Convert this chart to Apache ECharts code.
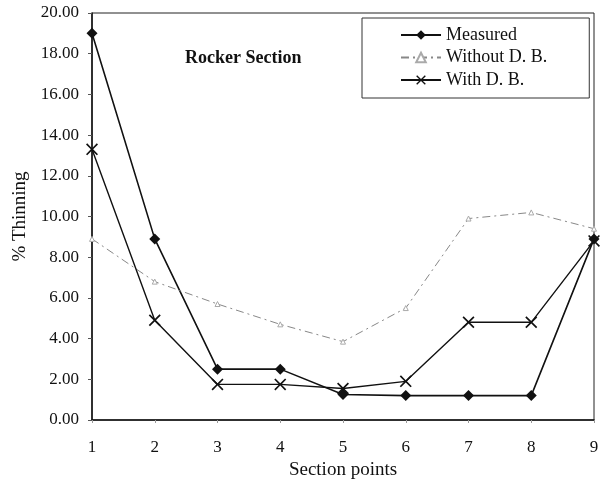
<!DOCTYPE html>
<html>
<head>
<meta charset="utf-8">
<script src="https://cdn.jsdelivr.net/npm/echarts@6/dist/echarts.min.js"></script>
<style>
  html, body { margin: 0; padding: 0; background: #fff; }
  #chart { width: 600px; height: 483px; }
</style>
</head>
<body>
<div id="chart"></div>
<script>
// 数据
var sectionPoints = ['1', '2', '3', '4', '5', '6', '7', '8', '9']
var measured = [19.0, 8.9, 2.5, 2.5, 1.25, 1.2, 1.2, 1.2, 8.9]
var withoutDB = [8.9, 6.8, 5.7, 4.7, 3.85, 5.5, 9.9, 10.2, 9.4]
var withDB = [13.3, 4.9, 1.75, 1.75, 1.55, 1.9, 4.8, 4.8, 8.8]

var serif = '"Liberation Serif", "DejaVu Serif", serif'
var crossPath = 'path://M0,1L1,0L5,4L9,0L10,1L6,5L10,9L9,10L5,6L1,10L0,9L4,5Z'

var myChart = echarts.init(document.getElementById('chart'))

var option = {
  animation: false,
  backgroundColor: '#fff',
  textStyle: { fontFamily: serif },
  title: {
    text: 'Rocker Section',
    left: 185,
    top: 49,
    padding: 0,
    textStyle: { fontFamily: serif, fontSize: 18, fontWeight: 'bold', color: '#111' },
  },
  // 图例
  legend: {
    orient: 'vertical',
    left: 362,
    top: 18,
    padding: [8, 42, 9, 38],
    itemGap: 4.5,
    itemWidth: 40,
    itemHeight: 12,
    borderColor: '#333',
    borderWidth: 1,
    textStyle: { fontFamily: serif, fontSize: 18, color: '#111' },
    data: ['Measured', 'Without D. B.', 'With D. B.'],
  },
  // 图表边框
  grid: {
    left: 92,
    right: 6,
    top: 13,
    bottom: 63,
    outerBoundsMode: 'none',
    show: true,
    borderColor: '#222',
    borderWidth: 1,
  },
  xAxis: {
    type: 'category',
    boundaryGap: false,
    data: sectionPoints,
    name: 'Section points',
    nameLocation: 'middle',
    nameGap: 41,
    nameTextStyle: { fontFamily: serif, fontSize: 19, color: '#111' },
    axisLine: { lineStyle: { color: '#111', width: 1.5 } },
    axisTick: { show: true, alignWithLabel: true, length: 3, lineStyle: { color: '#999' } },
    axisLabel: { fontFamily: serif, fontSize: 17, color: '#111', margin: 19 },
    splitLine: { show: false },
  },
  yAxis: {
    type: 'value',
    min: 0,
    max: 20,
    interval: 2,
    name: '% Thinning',
    nameLocation: 'middle',
    nameGap: 61,
    nameTextStyle: { fontFamily: serif, fontSize: 19, color: '#111' },
    axisLine: { show: true, lineStyle: { color: '#111', width: 1.5 } },
    axisTick: { show: true, length: 4, lineStyle: { color: '#555' } },
    axisLabel: {
      fontFamily: serif,
      fontSize: 17,
      color: '#111',
      margin: 13,
      formatter: function (v) { return v.toFixed(2) },
    },
    splitLine: { show: false },
  },
  series: [
    {
      name: 'Measured',
      type: 'line',
      data: measured,
      symbol: 'diamond',
      symbolSize: 11,
      itemStyle: { color: '#111' },
      lineStyle: { color: '#111', width: 1.6 },
    },
    {
      name: 'Without D. B.',
      type: 'line',
      data: withoutDB,
      symbol: 'triangle',
      symbolSize: 5,
      itemStyle: { color: '#fff', borderColor: '#aaa', borderWidth: 1 },
      lineStyle: { color: '#888', width: 1, type: [8, 4, 2, 4] },
    },
    {
      name: 'With D. B.',
      type: 'line',
      data: withDB,
      symbol: crossPath,
      symbolSize: 12,
      itemStyle: { color: '#111' },
      lineStyle: { color: '#111', width: 1.4 },
    },
  ],
}
myChart.setOption(option)
</script>
</body>
</html>
